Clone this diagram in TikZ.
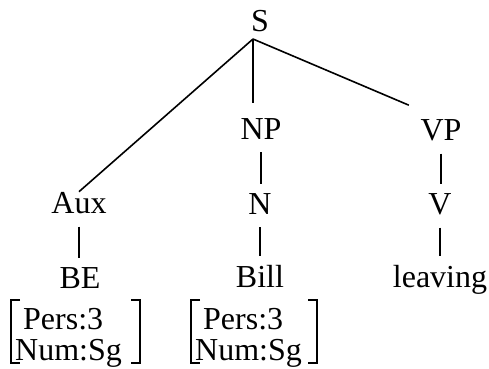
\documentclass[tikz,border=0pt]{standalone}
\usepackage{fontspec}
\setmainfont{Liberation Serif}
\usetikzlibrary{calc}

\begin{document}
\begin{tikzpicture}[
  x=1pt, y=-1pt,
  cat/.style={anchor=base, inner sep=0pt, font=\fontsize{32}{38}\selectfont},
  feat/.style={anchor=base west, inner sep=0pt, font=\fontsize{32}{38}\selectfont},
  branch/.style={line width=1.6pt},
  bar/.style={line width=1.1pt, shorten <=13pt, shorten >=9pt},
  brk/.style={line width=1.1pt}
]
  \useasboundingbox (0,0) rectangle (489,368);

  % root
  \node[cat] (s) at (260,31) {S};
  \coordinate (top) at ($(s.base)+(-7,8)$);

  % phrase level
  \node[cat] (aux) at (79,213)  {Aux};
  \node[cat] (np)  at (261,139) {NP};
  \node[cat] (vp)  at (441,140) {VP};

  % word level
  \node[cat] (n)       at (260,214) {N};
  \node[cat] (v)       at (440,214) {V};
  \node[cat] (be)      at (80,288)  {BE};
  \node[cat] (bill)    at (260,287) {Bill};
  \node[cat] (leaving) at (440,287) {leaving};

  % feature matrices
  \node[feat] (bepers)   at (23,329)  {Pers:3};
  \node[feat] (benum)    at (15,360)  {Num:Sg};
  \node[feat] (billpers) at (203,329) {Pers:3};
  \node[feat] (billnum)  at (195,360) {Num:Sg};

  \foreach \l/\r in {11/140, 191/317}
    \draw[brk] (\l+9,300) -- (\l,300) -- (\l,363) -- (\l+9,363)
               (\r-9,300) -- (\r,300) -- (\r,363) -- (\r-9,363);

  % branches
  \draw[branch] (top) -- (aux.north);
  \draw[branch, shorten >=15pt] (top) -- (top |- np.north);
  \draw[branch, shorten >=35pt] (top) -- (vp.north);

  % unary links
  \draw[bar] (aux.south) -- (aux.south |- be.north);
  \draw[bar] (np.south) -- (np.south |- n.north);
  \draw[bar] (n.south) -- (n.south |- bill.north);
  \draw[bar] (vp.south) -- (vp.south |- v.north);
  \draw[bar] (v.south) -- (v.south |- leaving.north);

\end{tikzpicture}
\end{document}
